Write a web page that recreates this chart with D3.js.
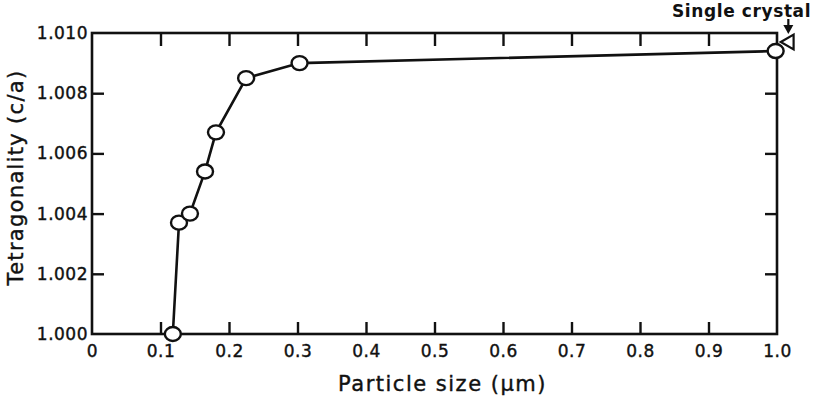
<!DOCTYPE html>
<html>
<head>
<meta charset="utf-8">
<script src="https://cdn.jsdelivr.net/npm/d3@7"></script>
<style>
  body { margin: 0; background: #fff; }
  svg text { font-family: "DejaVu Sans", sans-serif; fill: #111; }
</style>
</head>
<body>
<svg class="tet-plot" width="818" height="404"></svg>
<script>
// measured points (particle size in um, c/a)
var particleSize = [0.118, 0.127, 0.143, 0.165, 0.181, 0.225, 0.303, 0.998];
var tetragonality = [1.0000, 1.0037, 1.0040, 1.0054, 1.0067, 1.0085, 1.0090, 1.0094];

// single crystal marker
var crystalSize = [1.018];
var crystalValue = [1.0097];

var xTicks = [0, 0.1, 0.2, 0.3, 0.4, 0.5, 0.6, 0.7, 0.8, 0.9, 1.0];
var xTickLabels = ['0', '0.1', '0.2', '0.3', '0.4', '0.5', '0.6', '0.7', '0.8', '0.9', '1.0'];
var yTicks = [1.000, 1.002, 1.004, 1.006, 1.008, 1.010];
var yTickLabels = ['1.000', '1.002', '1.004', '1.006', '1.008', '1.010'];

var svg = d3.select('svg.tet-plot');

// scales
var xScale = d3.scaleLinear().domain([0, 1]).range([92, 777]);
var yScale = d3.scaleLinear().domain([1.000, 1.010]).range([334, 33]);

var x0 = xScale(0), x1 = xScale(1), yTop = yScale(1.010), yBot = yScale(1.000);

// axes, ticks pointing inward on all four sides
var innerX = xTicks.slice(1, -1), innerY = yTicks.slice(1, -1);

var xAxisG = svg.append('g').attr('transform', 'translate(0,' + yBot + ')')
    .call(d3.axisBottom(xScale).tickValues(xTicks).tickSize(-12).tickPadding(11)
      .tickFormat(function(d, i) { return xTickLabels[i]; }));
xAxisG.selectAll('.tick line').filter(function(d) { return d === 0 || d === 1; }).remove();

svg.append('g').attr('transform', 'translate(0,' + yTop + ')')
    .call(d3.axisTop(xScale).tickValues(innerX).tickSize(-13).tickFormat(''));

var yAxisG = svg.append('g').attr('transform', 'translate(' + x0 + ',0)')
    .call(d3.axisLeft(yScale).tickValues(yTicks).tickSize(-12).tickPadding(4)
      .tickFormat(function(d, i) { return yTickLabels[i]; }));
yAxisG.selectAll('.tick line').filter(function(d, i) { return i === 0 || i === yTicks.length - 1; }).remove();

svg.append('g').attr('transform', 'translate(' + x1 + ',0)')
    .call(d3.axisRight(yScale).tickValues(innerY).tickSize(-12).tickFormat(''));

svg.selectAll('.domain').remove();
svg.selectAll('.tick line').attr('stroke', '#111').attr('stroke-width', 2.4);
svg.selectAll('.tick text').attr('font-size', 17).attr('fill', '#111')
    .attr('letter-spacing', 0.5).attr('stroke', '#111').attr('stroke-width', 0.4);

// frame
svg.append('rect')
    .attr('x', x0).attr('y', yTop)
    .attr('width', x1 - x0).attr('height', yBot - yTop)
    .attr('fill', 'none').attr('stroke', '#111').attr('stroke-width', 2.6);

// axis titles
svg.append('text')
    .attr('x', (x0 + x1) / 2 + 8).attr('y', 391)
    .attr('text-anchor', 'middle').attr('font-size', 21)
    .attr('letter-spacing', 1.5).attr('stroke', '#111').attr('stroke-width', 0.4)
    .text('Particle size (\u00b5m)');

svg.append('text')
    .attr('transform', 'translate(23,' + ((yTop + yBot) / 2 - 6) + ') rotate(-90)')
    .attr('text-anchor', 'middle').attr('font-size', 21)
    .attr('letter-spacing', 1.3).attr('stroke', '#111').attr('stroke-width', 0.4)
    .text('Tetragonality (c/a)');

// data line + circles
var pts = particleSize.map(function(d, i) { return {x: d, y: tetragonality[i]}; });

svg.append('path')
    .datum(pts)
    .attr('fill', 'none').attr('stroke', '#111').attr('stroke-width', 2.6)
    .attr('d', d3.line().x(function(d) { return xScale(d.x); }).y(function(d) { return yScale(d.y); }));

svg.selectAll('.dot')
    .data(pts)
    .enter().append('ellipse')
    .attr('class', 'dot')
    .attr('cx', function(d) { return xScale(d.x); })
    .attr('cy', function(d) { return yScale(d.y); })
    .attr('rx', 8).attr('ry', 7)
    .attr('fill', '#fff').attr('stroke', '#111').attr('stroke-width', 2.4);

// single crystal triangle
var tri = d3.symbol().type(d3.symbolTriangle).size(95);
svg.selectAll('.crystal')
    .data(crystalSize)
    .enter().append('path')
    .attr('class', 'crystal')
    .attr('transform', function(d, i) {
      return 'translate(' + xScale(d) + ',' + yScale(crystalValue[i]) + ') rotate(-90)';
    })
    .attr('d', tri)
    .attr('fill', '#fff').attr('stroke', '#111').attr('stroke-width', 2.2);

// annotation with arrow
var ax = xScale(crystalSize[0]) - 1, ay = yScale(crystalValue[0]) - 8;
svg.append('line')
    .attr('x1', ax).attr('y1', 19).attr('x2', ax).attr('y2', ay - 6)
    .attr('stroke', '#111').attr('stroke-width', 2.2);
svg.append('path')
    .attr('d', 'M' + (ax - 5) + ',' + (ay - 9) + 'L' + (ax + 5) + ',' + (ay - 9) + 'L' + ax + ',' + ay + 'Z')
    .attr('fill', '#111');
svg.append('text')
    .attr('x', 672).attr('y', 17)
    .attr('font-size', 17).attr('font-weight', 'bold')
    .attr('letter-spacing', 0.6)
    .text('Single crystal');
</script>
</body>
</html>
